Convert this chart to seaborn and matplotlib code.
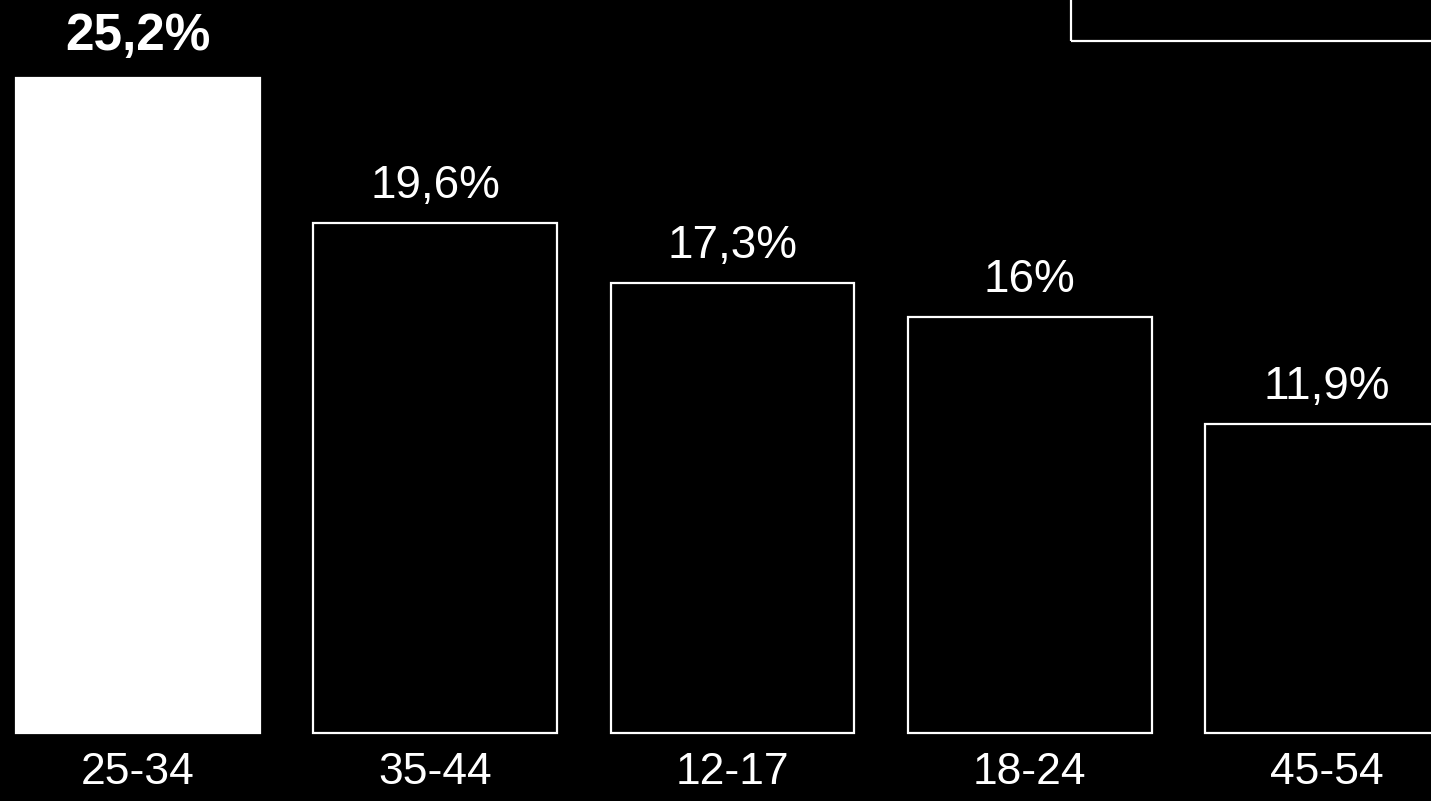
import matplotlib
matplotlib.use("Agg")
import matplotlib.pyplot as plt
import seaborn as sns
import pandas as pd
from matplotlib.patches import Rectangle

# ---- data ----
age_groups = ["25-34", "35-44", "12-17", "18-24", "45-54"]
shares = [25.2, 19.6, 17.3, 16.0, 11.9]
share_labels = ["25,2%", "19,6%", "17,3%", "16%", "11,9%"]
highlight = [True, False, False, False, False]

df = pd.DataFrame({"age": age_groups, "share": shares})

sns.set_theme(style="white")
plt.rcParams["font.family"] = ["Liberation Sans", "DejaVu Sans"]

W, H = 1431, 801
fig = plt.figure(figsize=(W / 100, H / 100), dpi=100, facecolor="black")

base_px = 68
px_per_unit = 26.0
ax = fig.add_axes([0, base_px / H, 1, 1 - base_px / H])
ax.set_facecolor("black")

fills = {a: ("white" if h else "black") for a, h in zip(age_groups, highlight)}
sns.barplot(data=df, x="age", y="share", hue="age", order=age_groups,
            palette=fills, edgecolor="white", linewidth=1.6, width=0.82,
            legend=False, ax=ax)
for p in ax.patches:
    p.set_clip_on(False)

ax.set_xlim(-0.464, 4.35)
ax.set_ylim(0, (H - base_px) / px_per_unit)

for i, (v, lab, h) in enumerate(zip(shares, share_labels, highlight)):
    ax.annotate(lab, xy=(i, v), xytext=(0, 20 if h else 18), textcoords="offset points",
                ha="center", va="baseline", color="white",
                fontsize=37 if h else 33, fontweight="bold" if h else "normal")

ax.set_xlabel("")
ax.set_ylabel("")
ax.set_yticks([])
ax.tick_params(axis="x", length=0, pad=14, labelsize=32, labelcolor="white")
for s in ax.spines.values():
    s.set_visible(False)

# decorative frame at top right
fig.patches.append(Rectangle((1071 / W, 1 - 41 / H), 0.5, 0.5, transform=fig.transFigure,
                             fill=False, edgecolor="white", linewidth=1.6))

fig.savefig("out.png", dpi=100, facecolor="black")
